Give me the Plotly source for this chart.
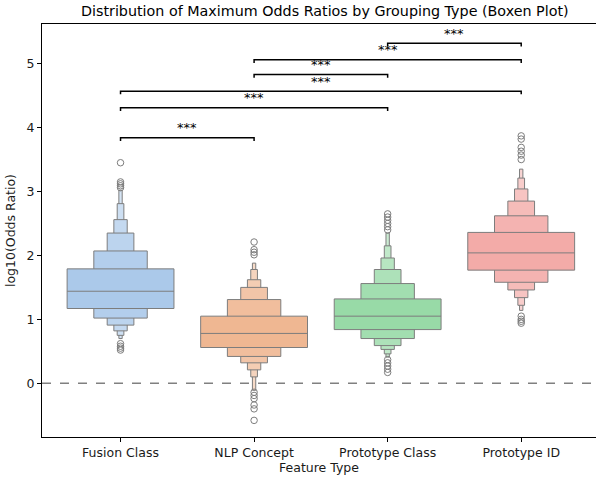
import plotly.graph_objects as go

categories = ["Fusion Class", "NLP Concept", "Prototype Class", "Prototype ID"]
base_colors = ["#abc9ea", "#efb792", "#98daa7", "#f3aba8"]

# letter-value levels, widest (innermost) first
fusion_lo = [1.17, 1.02, 0.91, 0.82, 0.75, 0.70]
fusion_hi = [1.79, 2.07, 2.35, 2.56, 2.81, 3.02]
nlp_lo = [0.56, 0.42, 0.32, 0.21, 0.10, -0.11]
nlp_hi = [1.05, 1.31, 1.50, 1.62, 1.78, 1.88]
pclass_lo = [0.84, 0.70, 0.59, 0.53, 0.46, 0.41]
pclass_hi = [1.32, 1.56, 1.78, 1.96, 2.15, 2.35]
pid_lo = [1.77, 1.58, 1.46, 1.34, 1.22, 1.14]
pid_hi = [2.36, 2.62, 2.85, 3.04, 3.21, 3.35]
level_lo = [fusion_lo, nlp_lo, pclass_lo, pid_lo]
level_hi = [fusion_hi, nlp_hi, pclass_hi, pid_hi]

medians = [1.44, 0.78, 1.05, 2.04]

fusion_out = [3.45, 3.15, 3.12, 3.09, 3.06, 0.62, 0.58, 0.55, 0.52]
nlp_out = [2.21, 2.09, 2.05, 2.01, -0.14, -0.19, -0.24, -0.34, -0.40, -0.58]
pclass_out = [2.65, 2.60, 2.55, 2.50, 2.45, 2.40, 0.37, 0.32, 0.27, 0.22, 0.17]
pid_out = [3.87, 3.82, 3.69, 3.63, 3.57, 3.50, 1.05, 1.00, 0.97, 0.94]
outliers = [fusion_out, nlp_out, pclass_out, pid_out]

# significance brackets: (group a, group b, height, label)
pair_a = [0, 0, 0, 1, 1, 2]
pair_b = [1, 2, 3, 2, 3, 3]
pair_y = [3.84, 4.31, 4.57, 4.83, 5.06, 5.32]
pair_label = ["***"] * 6

LEVEL_W = [0.8, 0.4, 0.2, 0.1, 0.05, 0.025]
EDGE = "rgb(125,125,125)"


def lighten(hex_color, f):
    hex_color = hex_color.lstrip("#")
    r, g, b = (int(hex_color[i:i+2], 16) for i in (0, 2, 4))
    r, g, b = (round(c + (255 - c) * f) for c in (r, g, b))
    return f"rgb({r},{g},{b})"


fig = go.Figure()

for i, cat in enumerate(categories):
    n = len(level_lo[i])
    # narrowest first so the wide boxes sit on top
    for k in reversed(range(n)):
        lo, hi = level_lo[i][k], level_hi[i][k]
        fig.add_trace(go.Bar(
            x=[i], base=[lo], y=[hi - lo], width=LEVEL_W[k],
            marker=dict(color=lighten(base_colors[i], 0.5 * k / (n - 1)),
                        line=dict(color=EDGE, width=1)),
            showlegend=False, hoverinfo="skip",
        ))
    fig.add_trace(go.Scatter(
        x=[i - LEVEL_W[0] / 2, i + LEVEL_W[0] / 2], y=[medians[i]] * 2,
        mode="lines", line=dict(color=EDGE, width=1), showlegend=False,
    ))
    fig.add_trace(go.Scatter(
        x=[i] * len(outliers[i]), y=outliers[i], mode="markers",
        marker=dict(symbol="circle-open", size=6.5, color=EDGE, line=dict(width=1)),
        showlegend=False,
    ))

fig.add_hline(y=0, line=dict(color="rgb(128,128,128)", width=1.5, dash="dash"))

TICK_H = 0.05
for a, b, y, lab in zip(pair_a, pair_b, pair_y, pair_label):
    fig.add_trace(go.Scatter(
        x=[a, a, b, b], y=[y - TICK_H, y, y, y - TICK_H], mode="lines",
        line=dict(color="black", width=1.5), showlegend=False,
    ))
    fig.add_annotation(x=(a + b) / 2, y=y, text=lab, showarrow=False,
                       yshift=10, font=dict(size=13, color="black"))

fig.update_layout(
    width=596, height=479,
    margin=dict(l=42, r=0, t=24, b=42),
    barmode="overlay", hovermode=False,
    plot_bgcolor="white", paper_bgcolor="white",
    font=dict(family="DejaVu Sans", size=12.5, color="#1a1a1a"),
    title=dict(text="Distribution of Maximum Odds Ratios by Grouping Type (Boxen Plot)",
               x=0.545, xanchor="center", y=0.987, yanchor="top",
               font=dict(size=14.3, color="black")),
)
fig.update_xaxes(
    range=[-0.588, 3.56], tickvals=list(range(len(categories))), ticktext=categories,
    showline=True, linecolor="black", linewidth=1, mirror=True,
    ticks="outside", ticklen=4, tickcolor="black", showgrid=False, zeroline=False,
    title=dict(text="Feature Type", standoff=2, font=dict(size=12.5)), automargin=False,
)
fig.update_yaxes(
    range=[-0.84, 5.62], tickvals=[0, 1, 2, 3, 4, 5],
    showline=True, linecolor="black", linewidth=1,
    ticks="outside", ticklen=4, tickcolor="black", showgrid=False, zeroline=False,
    title=dict(text="log10(Odds Ratio)", standoff=8, font=dict(size=12.5)), automargin=False,
)

fig.write_html("out.html", config={"displayModeBar": False},
               post_script="document.body.style.margin='0';")
